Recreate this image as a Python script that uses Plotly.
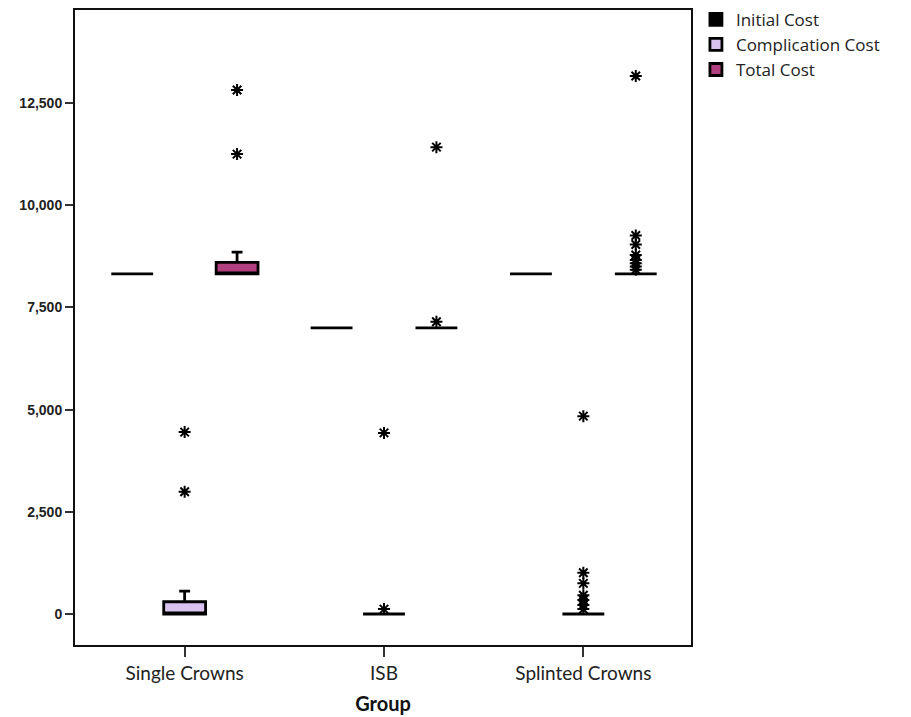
import plotly.graph_objects as go

groups = ["Single Crowns", "ISB", "Splinted Crowns"]
series = ["Initial Cost", "Complication Cost", "Total Cost"]

initial_q1 = [8320, 7000, 8320]
initial_median = [8320, 7000, 8320]
initial_q3 = [8320, 7000, 8320]
initial_lower = [8320, 7000, 8320]
initial_upper = [8320, 7000, 8320]
initial_outliers = [[], [], []]

comp_q1 = [0, 0, 0]
comp_median = [0, 0, 0]
comp_q3 = [300, 0, 0]
comp_lower = [0, 0, 0]
comp_upper = [560, 0, 0]
comp_outliers = [[2990, 4450], [120, 4430], [120, 220, 340, 460, 750, 1010, 4840]]

total_q1 = [8320, 7000, 8320]
total_median = [8320, 7000, 8320]
total_q3 = [8600, 7000, 8320]
total_lower = [8320, 7000, 8320]
total_upper = [8850, 7000, 8320]
total_outliers = [[11250, 12820], [7150, 11420], [8420, 8500, 8580, 8660, 8780, 9040, 9260, 13160]]

y_ticks = [0, 2500, 5000, 7500, 10000, 12500]
y_ticktext = ["0", "2,500", "5,000", "7,500", "10,000", "12,500"]

colors = ["#000000", "#D9C2EF", "#B0407F"]
offsets = [-0.263, 0.0, 0.263]
box_width = 0.21

stats = [
    (initial_q1, initial_median, initial_q3, initial_lower, initial_upper, initial_outliers),
    (comp_q1, comp_median, comp_q3, comp_lower, comp_upper, comp_outliers),
    (total_q1, total_median, total_q3, total_lower, total_upper, total_outliers),
]

fig = go.Figure()
for i, (name, st) in enumerate(zip(series, stats)):
    q1, med, q3, lo, hi, outs = st
    pos = [g + offsets[i] for g in range(len(groups))]
    fig.add_trace(go.Box(
        x=pos, q1=q1, median=med, q3=q3, lowerfence=lo, upperfence=hi,
        name=name, orientation="v", width=box_width, whiskerwidth=0.26,
        fillcolor=colors[i], line=dict(color="#000000", width=2.8),
        boxpoints=False, hoverinfo="skip",
    ))
for i, st in enumerate(stats):
    outs = st[5]
    xs, ys = [], []
    for g, vals in enumerate(outs):
        for v in vals:
            xs.append(g + offsets[i])
            ys.append(v)
    if xs:
        fig.add_trace(go.Scatter(
            x=xs, y=ys, mode="markers", showlegend=False,
            marker=dict(symbol="asterisk-open", size=10, color="#000000",
                        line=dict(color="#000000", width=2)),
            hoverinfo="skip",
        ))

# the page body adds an 8px margin, so the figure is drawn 8px smaller
fig.update_layout(
    width=903, height=709,
    margin=dict(l=67, r=220, t=2, b=72, autoexpand=False),
    paper_bgcolor="white", plot_bgcolor="white",
    boxmode="overlay",
    legend=dict(x=1.008, xanchor="left", y=1.013, yanchor="top",
                bgcolor="rgba(0,0,0,0)",
                font=dict(family="Open Sans", size=17, color="#222222"),
                tracegroupgap=0, itemwidth=30),
    font=dict(family="Lato", color="#222222"),
)
fig.update_xaxes(
    range=[-0.55, 2.54], tickmode="array", tickvals=[0, 1, 2], ticktext=groups,
    showgrid=False, zeroline=False, showline=True, linecolor="#111111", linewidth=2,
    mirror=True, ticks="outside", ticklen=10, tickwidth=1.5, tickcolor="#333333",
    tickfont=dict(family="Lato", size=19, color="#222222"),
    title=dict(text="<b>Group</b>", font=dict(family="Lato", size=20, color="#111111"), standoff=14),
)
fig.update_yaxes(
    range=[-758, 14775], tickmode="array", tickvals=y_ticks, ticktext=y_ticktext,
    showgrid=False, zeroline=False, showline=True, linecolor="#111111", linewidth=2,
    mirror=True, ticks="outside", ticklen=8, tickwidth=1.5, tickcolor="#333333",
    tickfont=dict(family="Liberation Sans", size=14, color="#222222", weight="bold"),
)
fig.write_html("out.html")
